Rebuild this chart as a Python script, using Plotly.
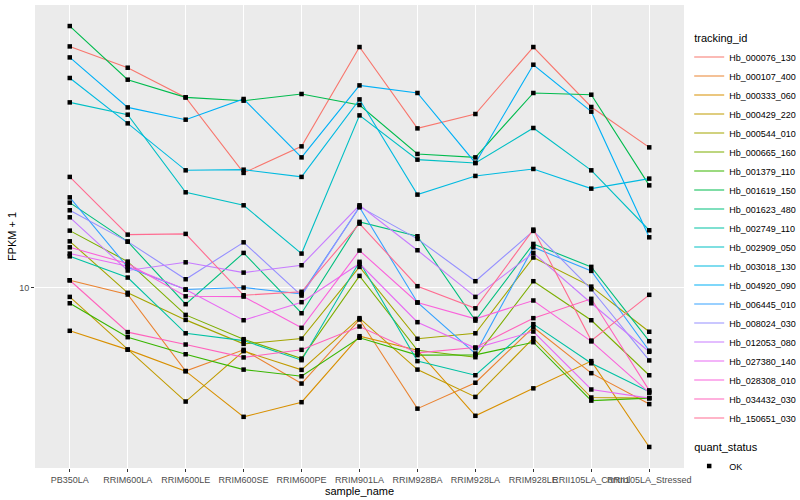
import numpy as np
import plotly.graph_objects as go

samples = ["PB350LA", "RRIM600LA", "RRIM600LE", "RRIM600SE", "RRIM600PE", "RRIM901LA",
           "RRIM928BA", "RRIM928LA", "RRIM928LE", "RRII105LA_Control", "RRII105LA_Stressed"]

Hb_000076_130 = [56.89, 48.80, 39.41, 22.88, 27.70, 56.64, 31.53, 34.97, 56.64, 36.78, 27.50]
Hb_000107_400 = [10.56, 9.53, 5.49, 6.40, 5.02, 7.96, 4.19, 5.05, 7.53, 5.41, 4.33]
Hb_000333_060 = [7.34, 6.41, 5.49, 3.95, 4.39, 7.06, 6.38, 3.98, 4.85, 5.90, 3.18]
Hb_000429_220 = [9.37, 6.41, 4.41, 6.34, 5.54, 8.04, 5.55, 4.56, 6.96, 4.54, 4.52]
Hb_000544_010 = [13.98, 9.65, 7.94, 6.68, 6.94, 11.63, 6.93, 7.21, 12.44, 10.09, 7.29]
Hb_000665_160 = [15.10, 12.08, 8.23, 6.91, 6.01, 10.90, 6.38, 6.07, 10.49, 7.92, 5.33]
Hb_001379_110 = [8.95, 7.01, 6.20, 5.55, 5.29, 6.98, 6.16, 6.17, 6.76, 4.44, 4.52]
Hb_001619_150 = [65.88, 44.77, 39.41, 38.49, 40.39, 37.31, 26.23, 25.59, 40.68, 40.18, 20.92]
Hb_001623_480 = [18.47, 13.95, 8.89, 12.86, 8.33, 16.08, 14.50, 7.90, 13.72, 11.63, 6.81]
Hb_002749_110 = [12.55, 10.77, 7.21, 6.84, 5.94, 12.06, 5.90, 5.33, 7.70, 5.81, 4.73]
Hb_002909_050 = [38.02, 34.80, 19.90, 18.12, 12.80, 34.62, 25.17, 24.58, 31.62, 23.31, 15.14]
Hb_003018_130 = [45.32, 32.69, 23.31, 23.42, 22.23, 38.85, 19.57, 22.39, 23.54, 20.43, 21.96]
Hb_004920_090 = [52.56, 36.67, 33.57, 38.96, 25.59, 42.97, 40.68, 24.58, 49.87, 35.56, 14.39]
Hb_006445_010 = [19.19, 11.60, 9.88, 10.02, 9.58, 17.86, 9.00, 6.23, 13.39, 11.30, 6.36]
Hb_008024_030 = [17.48, 13.95, 10.64, 13.88, 9.46, 17.95, 14.23, 10.49, 15.07, 9.90, 5.93]
Hb_012053_080 = [16.62, 11.33, 12.02, 11.16, 11.77, 18.12, 13.11, 9.37, 12.86, 8.95, 6.31]
Hb_027380_140 = [12.80, 11.68, 9.88, 7.92, 9.02, 11.91, 7.81, 6.48, 7.30, 4.81, 4.52]
Hb_028308_010 = [13.39, 11.91, 9.41, 9.39, 7.50, 13.08, 9.00, 8.00, 9.13, 6.80, 4.70]
Hb_034432_030 = [10.56, 7.27, 6.65, 6.06, 6.40, 7.57, 6.26, 6.51, 8.04, 9.24, 4.78]
Hb_150651_030 = [22.23, 14.67, 14.75, 9.48, 9.72, 15.88, 10.12, 8.63, 15.21, 6.84, 9.51]

tracking_ids = ["Hb_000076_130", "Hb_000107_400", "Hb_000333_060", "Hb_000429_220",
                "Hb_000544_010", "Hb_000665_160", "Hb_001379_110", "Hb_001619_150",
                "Hb_001623_480", "Hb_002749_110", "Hb_002909_050", "Hb_003018_130",
                "Hb_004920_090", "Hb_006445_010", "Hb_008024_030", "Hb_012053_080",
                "Hb_027380_140", "Hb_028308_010", "Hb_034432_030", "Hb_150651_030"]
series = [Hb_000076_130, Hb_000107_400, Hb_000333_060, Hb_000429_220, Hb_000544_010,
          Hb_000665_160, Hb_001379_110, Hb_001619_150, Hb_001623_480, Hb_002749_110,
          Hb_002909_050, Hb_003018_130, Hb_004920_090, Hb_006445_010, Hb_008024_030,
          Hb_012053_080, Hb_027380_140, Hb_028308_010, Hb_034432_030, Hb_150651_030]
colors = ["#F8766D", "#EA8331", "#D89000", "#C09B00", "#A3A500", "#7CAE00", "#39B600",
          "#00BB4E", "#00BF7D", "#00C1A3", "#00BFC4", "#00BAE0", "#00B0F6", "#35A2FF",
          "#9590FF", "#C77CFF", "#E76BF3", "#FA62DB", "#FF62BC", "#FF6C91"]
quant_status = "OK"

FONT = "Liberation Sans, Arial, Helvetica, sans-serif"

fig = go.Figure()
for i, (name, vals, col) in enumerate(zip(tracking_ids, series, colors)):
    fig.add_trace(go.Scatter(
        x=samples, y=vals, mode="lines", name=name,
        line=dict(color=col, width=1.1),
        legendgroup="tracking",
        legendgrouptitle=dict(text="tracking_id", font=dict(size=11, color="black")) if i == 0 else None,
    ))

all_x = [s for _ in series for s in samples]
all_y = [v for vals in series for v in vals]
fig.add_trace(go.Scatter(
    x=all_x, y=all_y, mode="markers", name=quant_status,
    marker=dict(symbol="square", size=4.5, color="black"),
    legendgroup="quant",
    legendgrouptitle=dict(text="quant_status", font=dict(size=11, color="black")),
))

logs = np.log10(all_y)
lo, hi = logs.min(), logs.max()
pad = 0.05 * (hi - lo)

fig.update_layout(
    width=800, height=500,
    margin=dict(l=35, r=116, t=5, b=32, autoexpand=False),
    paper_bgcolor="white", plot_bgcolor="#EBEBEB",
    font=dict(family=FONT, size=9, color="#4D4D4D"),
    showlegend=True,
    legend=dict(x=1.008, xanchor="left", y=0.96, yanchor="top",
                font=dict(size=9, color="black"), tracegroupgap=10,
                itemwidth=30, bgcolor="rgba(0,0,0,0)"),
    xaxis=dict(
        type="category", range=[-0.6, len(samples) - 0.4],
        showgrid=True, gridcolor="white", gridwidth=1.1, zeroline=False,
        ticks="outside", ticklen=3, tickcolor="#333333", tickangle=0,
        tickfont=dict(size=9, color="#4D4D4D"),
        title=dict(text="sample_name", font=dict(size=11, color="black"), standoff=1),
        automargin=False, showline=False,
    ),
    yaxis=dict(
        type="log", range=[lo - pad, hi + pad], tickvals=[10],
        showgrid=True, gridcolor="white", gridwidth=1.1, zeroline=False,
        ticks="outside", ticklen=3, tickcolor="#333333",
        tickfont=dict(size=9, color="#4D4D4D"),
        title=dict(text="FPKM + 1", font=dict(size=11, color="black"), standoff=0),
        automargin=False, showline=False,
    ),
)

fig.write_html("out.html", config={"displayModeBar": False},
               post_script="document.body.style.margin='0';document.body.style.overflow='hidden';")
